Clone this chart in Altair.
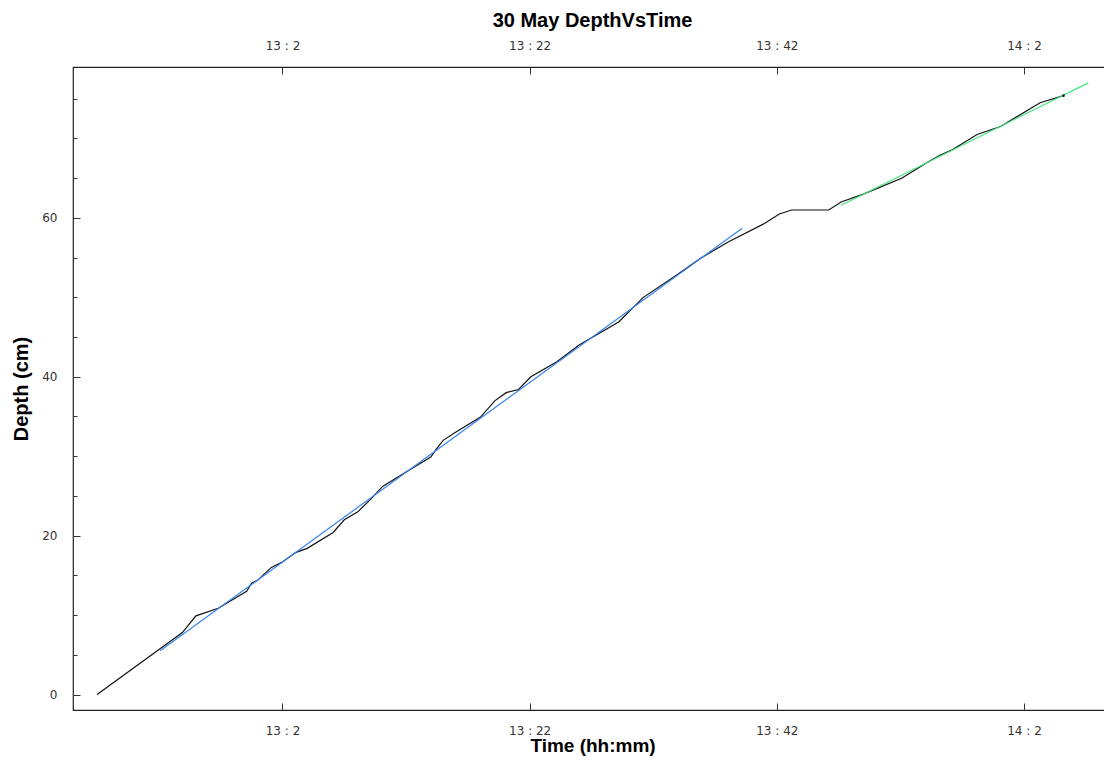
import altair as alt
import pandas as pd

# ---- data (time in minutes since midnight, depth in cm) ----
time_min = [767.0, 773.9, 775.0, 776.8, 779.1, 779.5, 780.0, 781.1, 781.9, 783.1,
            784.0, 786.1, 787.0, 788.1, 789.2, 790.1, 792.0, 794.0, 794.4, 795.0,
            796.1, 798.0, 799.2, 800.1, 801.1, 802.1, 804.2, 806.0, 809.2, 811.2,
            813.9, 815.8, 818.1, 821.0, 822.2, 823.2, 826.2, 827.2, 829.0, 832.1,
            834.1, 835.2, 836.1, 838.2, 840.1, 843.3, 845.2]
depth_cm = [0.0, 7.8, 9.9, 10.85, 13.0, 14.0, 14.4, 16.0, 16.6, 17.9,
            18.4, 20.4, 22.0, 23.0, 24.7, 26.2, 28.0, 29.9, 30.8, 32.0,
            33.1, 34.9, 37.0, 38.0, 38.4, 40.0, 41.9, 44.0, 46.9, 50.0,
            52.8, 54.9, 57.0, 59.3, 60.5, 61.0, 61.0, 62.0, 63.0, 65.0,
            66.9, 67.9, 68.5, 70.5, 71.5, 74.5, 75.4]

fit1_time = [772.1, 819.2]
fit1_depth = [5.5, 58.7]
fit2_time = [827.2, 847.2]
fit2_depth = [61.6, 77.0]

x_tick_values = [782, 802, 822, 842]
y_major_ticks = [0, 20, 40, 60]
y_minor_ticks = [5, 10, 15, 25, 30, 35, 45, 50, 55, 65, 70, 75]

X_DOMAIN = [765.05, 849.12]
Y_DOMAIN = [-1.95, 79.0]

df_main = pd.DataFrame({"t": time_min, "d": depth_cm})
df_fit1 = pd.DataFrame({"t": fit1_time, "d": fit1_depth})
df_fit2 = pd.DataFrame({"t": fit2_time, "d": fit2_depth})
df_end = df_main.tail(1)

label_expr = "floor(datum.value / 60) + ' : ' + (datum.value % 60)"

xscale = alt.Scale(domain=X_DOMAIN, nice=False, zero=False)
yscale = alt.Scale(domain=Y_DOMAIN, nice=False, zero=False)

common = dict(domain=False, grid=False, labelFont="DejaVu Sans", labelFontSize=12,
              labelColor="#333333", tickColor="#333333", tickWidth=1)
title_style = dict(titleFont="Liberation Sans", titleFontWeight="bold", titleColor="#000000")

black = alt.Chart(df_main).mark_line(color="#111111", strokeWidth=1.2).encode(
    x=alt.X("t:Q", scale=xscale,
            axis=alt.Axis(orient="bottom", values=x_tick_values, labelExpr=label_expr,
                          tickSize=7, offset=-7, labelPadding=15,
                          title="Time (hh:mm)", titleFontSize=19, titlePadding=0.5,
                          **title_style, **common)),
    y=alt.Y("d:Q", scale=yscale,
            axis=alt.Axis(orient="left", values=y_major_ticks, tickSize=7, offset=-7,
                          labelPadding=16, title="Depth (cm)", titleFontSize=20,
                          titlePadding=10, **title_style, **common)),
)

blue = alt.Chart(df_fit1).mark_line(color="#3584f2", strokeWidth=1.2).encode(
    x=alt.X("t:Q", scale=xscale,
            axis=alt.Axis(orient="top", values=x_tick_values, labelExpr=label_expr,
                          tickSize=7, offset=-7, labelPadding=15, title=None, **common)),
    y=alt.Y("d:Q", scale=yscale,
            axis=alt.Axis(orient="right", values=y_major_ticks, tickSize=7, offset=-7,
                          labels=False, title=None, **common)),
)

green = alt.Chart(df_fit2).mark_line(color="#3ee87c", strokeWidth=1.2).encode(
    x=alt.X("t:Q", scale=xscale, axis=None),
    y=alt.Y("d:Q", scale=yscale,
            axis=alt.Axis(orient="left", values=y_minor_ticks, tickSize=4, offset=-4,
                          labels=False, title=None, **common)),
)

endpoint = alt.Chart(df_end).mark_point(shape="square", filled=True, size=5,
                                        color="#000000", opacity=1).encode(
    x=alt.X("t:Q", scale=xscale, axis=None),
    y=alt.Y("d:Q", scale=yscale,
            axis=alt.Axis(orient="right", values=y_minor_ticks, tickSize=4, offset=-4,
                          labels=False, title=None, **common)),
)

chart = alt.layer(black, blue, green, endpoint).resolve_axis(
    x="independent", y="independent"
).properties(
    width=1039,
    height=643,
    padding={"left": 65, "top": 59, "right": -8, "bottom": 47},
    autosize=alt.AutoSizeParams(type="none"),
    title=alt.TitleParams("30 May DepthVsTime", font="Liberation Sans", fontSize=20,
                          fontWeight="bold", color="#000000", anchor="middle", offset=8),
).configure_view(stroke="#222222", strokeWidth=1.2)

chart.save("out.html", embed_options={"renderer": "svg", "actions": False})
